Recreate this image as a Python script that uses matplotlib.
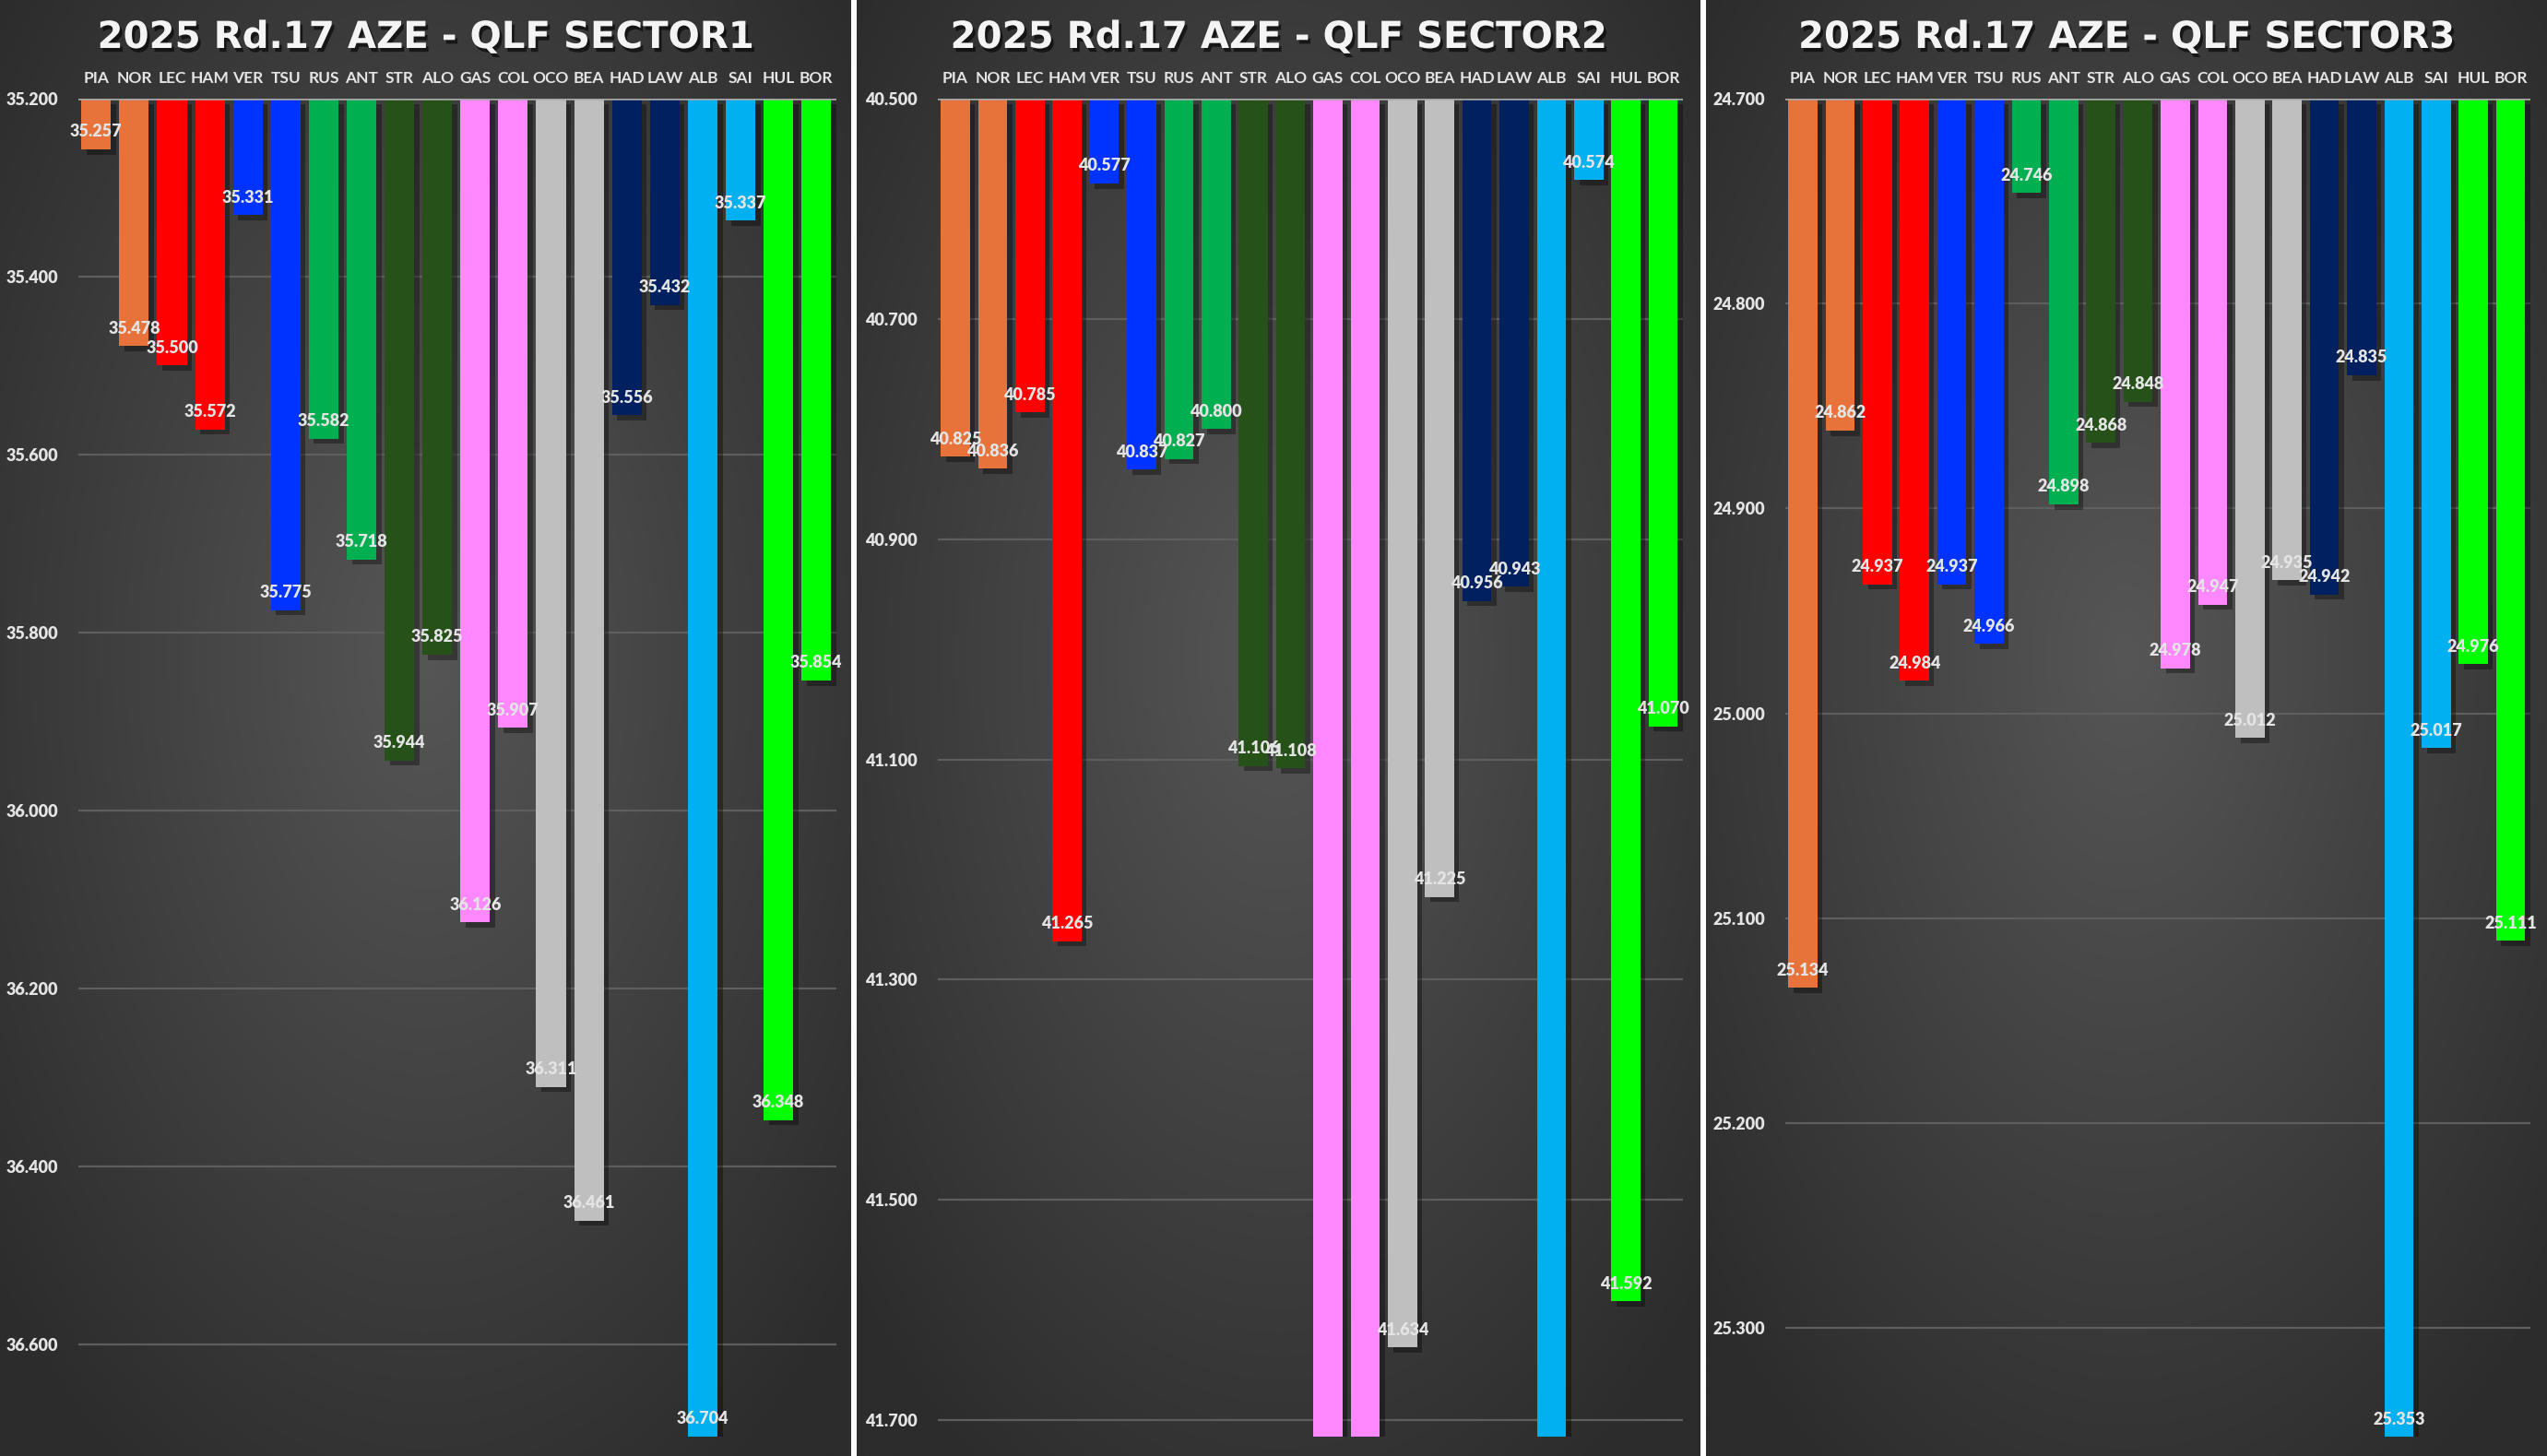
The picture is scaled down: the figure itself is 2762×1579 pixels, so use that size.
import numpy as np
import matplotlib
matplotlib.use("Agg")
import matplotlib.pyplot as plt
import matplotlib.patheffects as pe
import matplotlib.transforms as mtransforms

# drivers and team colours (same order in every sector)
drivers = ["PIA", "NOR", "LEC", "HAM", "VER", "TSU", "RUS", "ANT", "STR", "ALO",
           "GAS", "COL", "OCO", "BEA", "HAD", "LAW", "ALB", "SAI", "HUL", "BOR"]
team_colors = ["#E8733A", "#E8733A", "#FF0000", "#FF0000", "#0033FF", "#0033FF",
               "#00B050", "#00B050", "#265219", "#265219", "#FF87FF", "#FF87FF",
               "#BFBFBF", "#BFBFBF", "#002060", "#002060", "#00B0F0", "#00B0F0",
               "#00FF00", "#00FF00"]

# sector times (s)
sector1 = [35.257, 35.478, 35.500, 35.572, 35.331, 35.775, 35.582, 35.718, 35.944, 35.825,
           36.126, 35.907, 36.311, 36.461, 35.556, 35.432, 36.704, 35.337, 36.348, 35.854]
# GAS, COL, ALB run off the bottom of the chart (labels hidden) - estimated
sector2 = [40.825, 40.836, 40.785, 41.265, 40.577, 40.837, 40.827, 40.800, 41.106, 41.108,
           41.850, 41.850, 41.634, 41.225, 40.956, 40.943, 41.850, 40.574, 41.592, 41.070]
sector3 = [25.134, 24.862, 24.937, 24.984, 24.937, 24.966, 24.746, 24.898, 24.868, 24.848,
           24.978, 24.947, 25.012, 24.935, 24.942, 24.835, 25.353, 25.017, 24.976, 25.111]

titles = ["2025 Rd.17 AZE - QLF SECTOR1", "2025 Rd.17 AZE - QLF SECTOR2",
          "2025 Rd.17 AZE - QLF SECTOR3"]
y_top = [35.2, 40.5, 24.7]
y_bottom = [36.704, 41.715, 25.353]
y_step = [0.2, 0.2, 0.1]
y_last_tick = [36.6, 41.7, 25.3]

W, H = 2762, 1579
fig = plt.figure(figsize=(W / 100, H / 100), dpi=100, facecolor="white")

# panel backgrounds (radial grey gradient), white gaps between panels
panels_px = [(0, 923), (929, 1844), (1850, W)]
bg_ax = fig.add_axes([0, 0, 1, 1])
bg_ax.set_xlim(0, W)
bg_ax.set_ylim(0, H)
bg_ax.axis("off")
for x0, x1 in panels_px:
    nx, ny = 200, 340
    gx, gy = np.meshgrid(np.linspace(-1, 1, nx), np.linspace(-1, 1, ny))
    r = np.clip(np.sqrt(gx ** 2 + (gy + 0.1) ** 2) / 1.35, 0, 1)
    shade = (0x56 - (0x56 - 0x2c) * r) / 255.0
    bg_ax.imshow(np.dstack([shade, shade, shade]), extent=[x0, x1, 0, H],
                 aspect="auto", interpolation="bicubic")

axes_px = [(85, 907), (1017, 1825), (1936, 2744)]
ax_bottom = 1 - 1558 / H
ax_height = (1558 - 107) / H

fonts = ["Lato", "DejaVu Sans"]
txt_col = "#E4E4E4"

for k, data in enumerate([sector1, sector2, sector3]):
    left, right = axes_px[k]
    ax = fig.add_axes([left / W, ax_bottom, (right - left) / W, ax_height])
    ax.patch.set_alpha(0)
    x = np.arange(len(drivers))
    vals = np.array(data)
    bars = ax.bar(x, vals - y_top[k], bottom=y_top[k], width=0.78,
                  color=team_colors, zorder=3)
    for b in bars:
        b.set_path_effects([pe.SimplePatchShadow(offset=(4, -4), shadow_rgbFace="black",
                                                 alpha=0.35), pe.Normal()])
    ax.set_xlim(-0.47, len(drivers) - 0.47)
    ax.set_ylim(y_bottom[k], y_top[k])

    ticks = np.arange(y_top[k], y_last_tick[k] + 1e-6, y_step[k])
    ax.set_yticks(ticks)
    ax.set_yticklabels([f"{t:.3f}" for t in ticks], family=fonts, fontweight="heavy",
                       fontsize=13, color=txt_col)
    ax.tick_params(axis="y", length=0, pad=16)
    ax.set_xticks([])
    for t in ticks[1:]:
        ax.axhline(t, color="#5E5E5E", lw=1.6, zorder=1)
    ax.axhline(y_top[k], color="#A8A8A8", lw=1.8, zorder=4)
    for s in ax.spines.values():
        s.set_visible(False)

    # driver names above the bars
    trans = mtransforms.blended_transform_factory(ax.transData, fig.transFigure)
    for i, d in enumerate(drivers):
        ax.text(i, 1 - 90 / H, d, transform=trans, ha="center", va="baseline",
                family=fonts, fontweight="bold", fontsize=12.5, color=txt_col)

    # value labels at the bar ends
    for i, v in enumerate(vals):
        ax.annotate(f"{v:.3f}", xy=(i, v), xytext=(0, 19), textcoords="offset pixels",
                    ha="center", va="center", family=fonts, fontweight="heavy",
                    fontsize=13, color=txt_col, zorder=5)

    # panel title
    cx = (panels_px[k][0] + panels_px[k][1]) / 2 / W
    fig.text(cx, 1 - 52 / H, titles[k], ha="center", va="baseline",
             family=["DejaVu Sans"], fontweight="bold", fontsize=29, color="#F4F4F4",
             path_effects=[pe.withSimplePatchShadow(offset=(2, -3), shadow_rgbFace="black",
                                                    alpha=0.6)])

fig.savefig("out.png", dpi=100, facecolor=fig.get_facecolor())
